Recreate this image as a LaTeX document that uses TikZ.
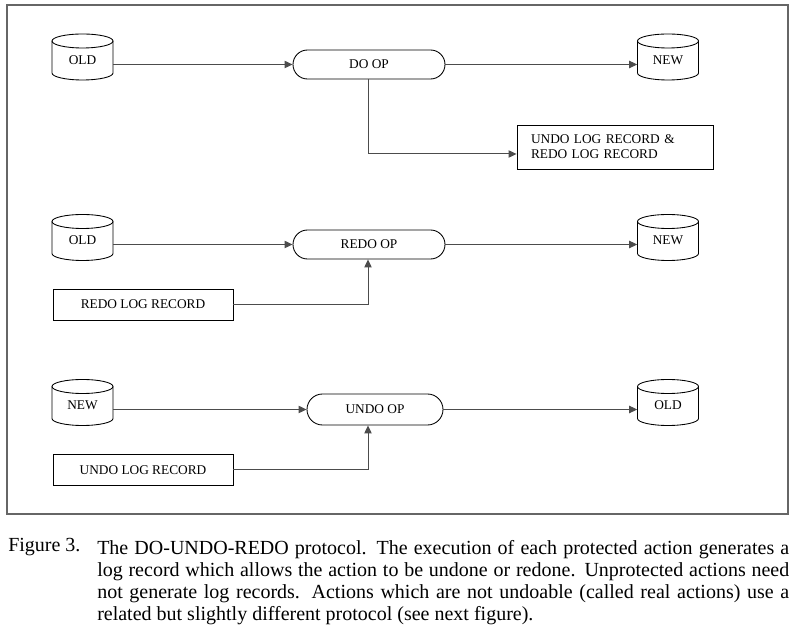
\documentclass[tikz,border=0pt]{standalone}
\usepackage{fontspec}
\setmainfont{Liberation Serif}
\usetikzlibrary{arrows.meta,shapes.misc}

% one pixel of the drawing grid
\newdimen\pxu \pxu=0.75pt

% storage drum: name, centre x, centre y, label
\newcommand\drum[4]{%
  \node[drumbox] (#1) at (#2,#3) {};
  \draw[outline] (#2-30.5,#3+16) -- (#2-30.5,#3-16)
    arc[start angle=180,end angle=360,x radius=30.5,y radius=7]
    -- (#2+30.5,#3+16);
  \draw[outline] (#2,#3+16) ellipse[x radius=30.5,y radius=7];
  \node[lbl] (#1-t) at (#2,#3-3) {#4};
}

\begin{document}
\begin{tikzpicture}[x=0.75pt,y=0.75pt,
  outline/.style={draw=black,line width=0.65pt},
  lbl/.style={font=\fontsize{10}{12}\selectfont,inner sep=0pt},
  drumbox/.style={rectangle,inner sep=0pt,minimum width=61\pxu,minimum height=46\pxu},
  opnode/.style={rounded rectangle,outline,inner sep=0pt,minimum height=29\pxu,
    font=\fontsize{10}{12}\selectfont},
  logbox/.style={rectangle,outline,inner sep=0pt,minimum width=180\pxu,minimum height=31\pxu,
    font=\fontsize{10}{12}\selectfont},
  link/.style={draw=black!70,line width=0.75pt,-{Triangle[length=6pt,width=5.5pt]}},
  captext/.style={font=\fontsize{15}{16.5}\selectfont}]
\useasboundingbox (0,0) rectangle (800,635);

% outer frame
\draw[draw=black!60,line width=1.3pt] (7,630) rectangle (788,121);

% ---- DO ----
\drum{old1}{82.5}{578}{OLD}
\drum{new1}{668}{578}{NEW}
\node[opnode,minimum width=152\pxu] (do) at (369,570.5) {DO OP};
\node[rectangle,outline,text width=168\pxu,inner xsep=14\pxu,inner ysep=0pt,
  minimum height=44\pxu,align=left,font=\fontsize{10}{11.25}\selectfont]
  (dolog) at (615,488) {UNDO LOG RECORD \&\\REDO LOG RECORD};
\coordinate (j1) at (368,481);
\draw[link] (old1.east |- do.west) -- (do.west);
\draw[link] (do.east) -- (new1.west |- do.east);
\draw[link] (do.south -| j1) -- (j1) -- (dolog.west |- j1);

% ---- REDO ----
\drum{old2}{82.5}{397.5}{OLD}
\drum{new2}{668}{397.5}{NEW}
\node[opnode,minimum width=152\pxu] (redo) at (369,390.5) {REDO OP};
\node[logbox] (redolog) at (143,330.5) {REDO LOG RECORD};
\coordinate (j2) at (368,330.5);
\draw[link] (old2.east |- redo.west) -- (redo.west);
\draw[link] (redo.east) -- (new2.west |- redo.east);
\draw[link] (redolog.east) -- (j2) -- (redo.south -| j2);

% ---- UNDO ----
\drum{new3}{82.5}{232.5}{NEW}
\drum{old3}{668}{232.5}{OLD}
\node[opnode,minimum width=136\pxu,minimum height=31\pxu] (undo) at (375,225.5) {UNDO OP};
\node[logbox] (undolog) at (143,165) {UNDO LOG RECORD};
\coordinate (j3) at (368,165);
\draw[link] (new3.east |- undo.west) -- (undo.west);
\draw[link] (undo.east) -- (old3.west |- undo.east);
\draw[link] (undolog.east) -- (j3) -- (undo.south -| j3);

% ---- caption ----
\node[anchor=base west,inner sep=0pt,captext] (fig) at (8,83) {Figure 3.};
\node[anchor=north west,inner sep=0pt,text width=519pt,align=justify,captext]
  (cap) at (97,95)
  {The DO-UNDO-REDO protocol.  The execution of each protected action generates a\linebreak
   log record which allows the action to be undone or redone.  Unprotected actions need\linebreak
   not generate log records.  Actions which are not undoable (called real actions) use a\linebreak
   related but slightly different protocol (see next figure).};
\end{tikzpicture}
\end{document}
